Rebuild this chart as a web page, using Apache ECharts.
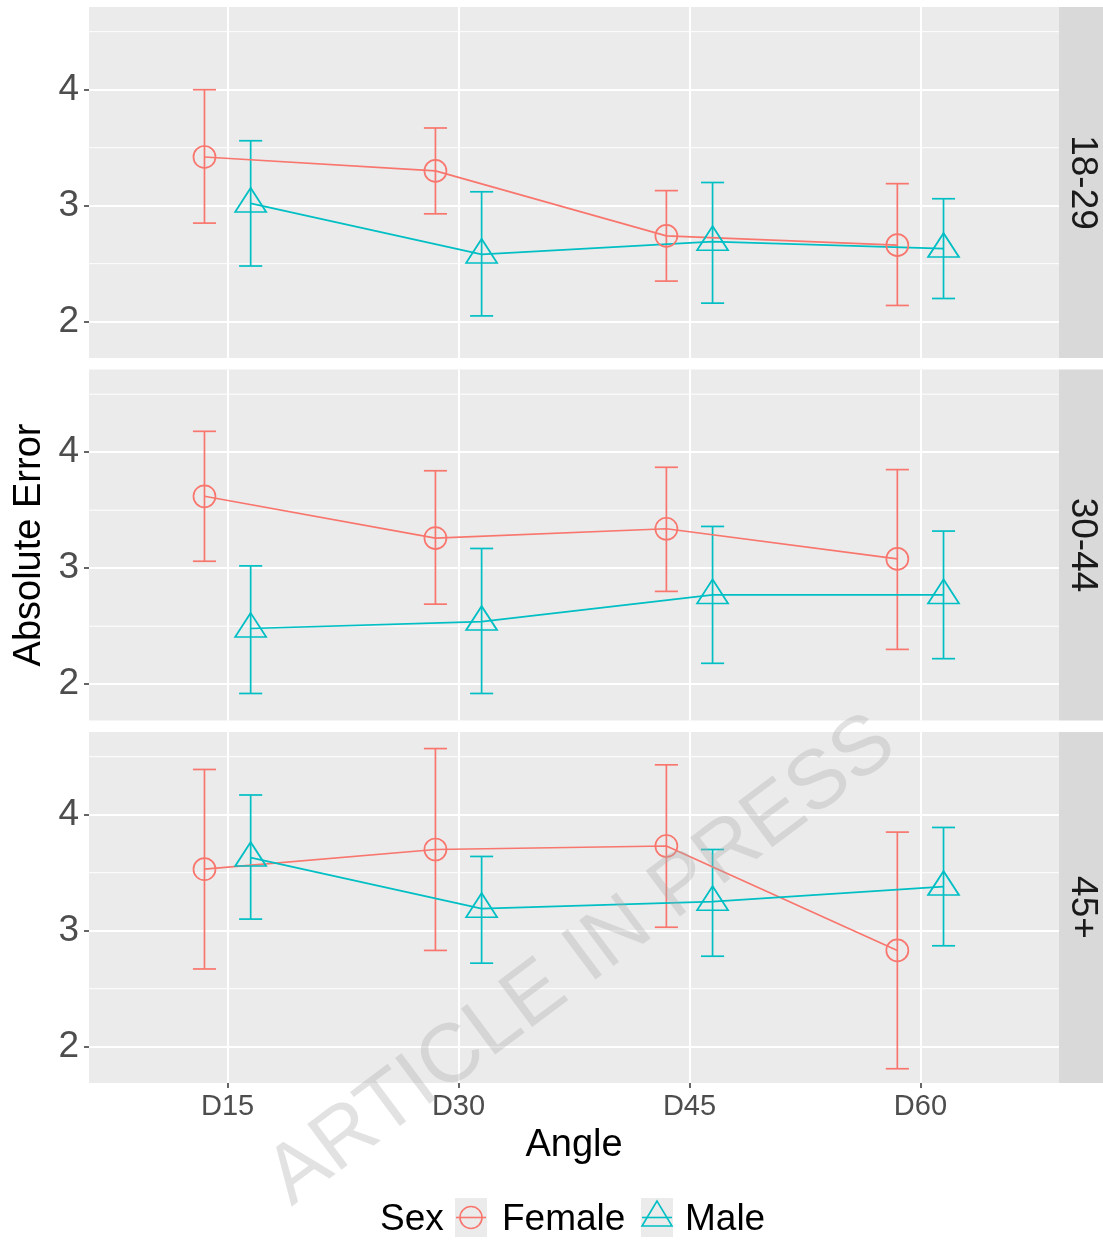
<!DOCTYPE html>
<html>
<head>
<meta charset="utf-8">
<script src="https://cdn.jsdelivr.net/npm/echarts@6/dist/echarts.min.js"></script>
<style>
html,body{margin:0;padding:0;background:#fff;}
#chart{width:1103px;height:1241px;}
</style>
</head>
<body>
<div id="chart"></div>
<script>
// ---------- data ----------
const categories = ['D15', 'D30', 'D45', 'D60'];
const panels = ['18-29', '30-44', '45+'];
const yTicks = [2, 3, 4];
const yMinor = [2.5, 3.5, 4.5];

// 18-29
const femaleMean1829 = [3.42, 3.30, 2.74, 2.66];
const femaleLow1829  = [2.85, 2.93, 2.35, 2.14];
const femaleHigh1829 = [4.00, 3.67, 3.13, 3.19];
const maleMean1829   = [3.02, 2.58, 2.69, 2.63];
const maleLow1829    = [2.48, 2.05, 2.16, 2.20];
const maleHigh1829   = [3.56, 3.12, 3.20, 3.06];
// 30-44
const femaleMean3044 = [3.62, 3.26, 3.34, 3.08];
const femaleLow3044  = [3.06, 2.69, 2.80, 2.30];
const femaleHigh3044 = [4.18, 3.84, 3.87, 3.85];
const maleMean3044   = [2.48, 2.54, 2.77, 2.77];
const maleLow3044    = [1.92, 1.92, 2.18, 2.22];
const maleHigh3044   = [3.02, 3.17, 3.36, 3.32];
// 45+
const femaleMean45 = [3.53, 3.70, 3.73, 2.83];
const femaleLow45  = [2.67, 2.83, 3.03, 1.81];
const femaleHigh45 = [4.39, 4.57, 4.43, 3.85];
const maleMean45   = [3.63, 3.19, 3.25, 3.38];
const maleLow45    = [3.10, 2.72, 2.78, 2.87];
const maleHigh45   = [4.17, 3.64, 3.70, 3.89];

const femaleMeans = [femaleMean1829, femaleMean3044, femaleMean45];
const femaleLows  = [femaleLow1829, femaleLow3044, femaleLow45];
const femaleHighs = [femaleHigh1829, femaleHigh3044, femaleHigh45];
const maleMeans = [maleMean1829, maleMean3044, maleMean45];
const maleLows  = [maleLow1829, maleLow3044, maleLow45];
const maleHighs = [maleHigh1829, maleHigh3044, maleHigh45];

// ---------- style ----------
const FEMALE = '#F8766D', MALE = '#00BFC4';
const FONT = '"Liberation Sans", Arial, Helvetica, sans-serif';
const PANEL_LEFT = 89, PANEL_W = 970, PANEL_H = 351;
const panelTops = [7, 369.5, 732];
const DODGE = 0.1;

const chart = echarts.init(document.getElementById('chart'), null, {renderer: 'canvas'});

const grids = [], xAxes = [], yAxes = [], series = [], graphics = [];

function errRender(params, api) {
  const x = api.value(0), lo = api.value(1), hi = api.value(2);
  const t = api.coord([x, hi]), b = api.coord([x, lo]);
  const hw = api.size([0.1, 0])[0] / 2;
  const style = {stroke: api.visual('color'), lineWidth: 1.7, fill: null};
  return {type: 'group', children: [
    {type: 'line', shape: {x1: t[0], y1: t[1], x2: b[0], y2: b[1]}, style: style},
    {type: 'line', shape: {x1: t[0] - hw, y1: t[1], x2: t[0] + hw, y2: t[1]}, style: style},
    {type: 'line', shape: {x1: b[0] - hw, y1: b[1], x2: b[0] + hw, y2: b[1]}, style: style}
  ]};
}

function minorRender(params, api) {
  const cs = params.coordSys;
  const y = api.coord([1, api.value(0)])[1];
  return {type: 'line', shape: {x1: cs.x, y1: y, x2: cs.x + cs.width, y2: y},
          style: {stroke: '#FFFFFF', lineWidth: 1}};
}

panels.forEach(function (name, i) {
  const last = i === panels.length - 1;
  grids.push({left: PANEL_LEFT, width: PANEL_W, top: panelTops[i], height: PANEL_H,
              show: true, backgroundColor: '#EBEBEB', borderWidth: 0});
  xAxes.push({
    type: 'value', gridIndex: i, min: 0.4, max: 4.6,
    axisLine: {show: false},
    axisTick: {show: last, customValues: [1, 2, 3, 4], length: 5, lineStyle: {color: '#333333', width: 1.5}},
    axisLabel: {show: last, customValues: [1, 2, 3, 4], margin: 9,
                formatter: function (v) { return categories[Math.round(v) - 1]; },
                color: '#4D4D4D', fontSize: 29, fontFamily: FONT},
    splitLine: {show: true, lineStyle: {color: '#FFFFFF', width: 2}}
  });
  yAxes.push({
    type: 'value', gridIndex: i, min: 1.687, max: 4.713,
    axisLine: {show: false},
    axisTick: {show: true, customValues: yTicks, length: 5, lineStyle: {color: '#333333', width: 1.5}},
    axisLabel: {customValues: yTicks, margin: 10, color: '#4D4D4D', fontSize: 37, fontFamily: FONT},
    splitLine: {show: true, lineStyle: {color: '#FFFFFF', width: 2}}
  });
  // minor grid lines
  series.push({type: 'custom', xAxisIndex: i, yAxisIndex: i, z: 1, silent: true,
               data: yMinor.map(function (v) { return [v]; }), encode: {y: 0},
               renderItem: minorRender});
  // female
  series.push({
    type: 'line', name: 'Female', xAxisIndex: i, yAxisIndex: i, z: 3, silent: true,
    data: femaleMeans[i].map(function (v, k) { return [k + 1 - DODGE, v]; }),
    symbol: 'circle', symbolSize: 22,
    itemStyle: {color: 'rgba(0,0,0,0)', borderColor: FEMALE, borderWidth: 1.7},
    lineStyle: {color: FEMALE, width: 1.7}, animation: false
  });
  series.push({
    type: 'custom', name: 'Female err', xAxisIndex: i, yAxisIndex: i, z: 3, silent: true,
    itemStyle: {color: FEMALE},
    data: femaleMeans[i].map(function (v, k) { return [k + 1 - DODGE, femaleLows[i][k], femaleHighs[i][k]]; }),
    encode: {x: 0, y: [1, 2]}, renderItem: errRender
  });
  // male
  series.push({
    type: 'line', name: 'Male', xAxisIndex: i, yAxisIndex: i, z: 3, silent: true,
    data: maleMeans[i].map(function (v, k) { return [k + 1 + DODGE, v]; }),
    symbol: 'triangle', symbolSize: [31, 24], symbolOffset: [0, -3.5],
    itemStyle: {color: 'rgba(0,0,0,0)', borderColor: MALE, borderWidth: 1.7},
    lineStyle: {color: MALE, width: 1.7}, animation: false
  });
  series.push({
    type: 'custom', name: 'Male err', xAxisIndex: i, yAxisIndex: i, z: 3, silent: true,
    itemStyle: {color: MALE},
    data: maleMeans[i].map(function (v, k) { return [k + 1 + DODGE, maleLows[i][k], maleHighs[i][k]]; }),
    encode: {x: 0, y: [1, 2]}, renderItem: errRender
  });
  // strip
  graphics.push({type: 'rect', shape: {x: 1059, y: panelTops[i], width: 44, height: PANEL_H},
                 style: {fill: '#D9D9D9'}, z: 1});
  graphics.push({type: 'text', x: 1082, y: panelTops[i] + PANEL_H / 2, rotation: -Math.PI / 2, z: 2,
                 style: {text: name, fill: '#1A1A1A', font: '37px ' + FONT, align: 'center', verticalAlign: 'middle'}});
});

// axis titles
graphics.push({type: 'text', x: 30, y: 545, rotation: Math.PI / 2, z: 2,
               style: {text: 'Absolute Error', fill: '#000000', font: '38px ' + FONT, align: 'center', verticalAlign: 'middle'}});
graphics.push({type: 'text', x: 574, y: 1146, z: 2,
               style: {text: 'Angle', fill: '#000000', font: '38px ' + FONT, align: 'center', verticalAlign: 'middle'}});

// legend
const LEG_Y = 1217.5;
const LEG_TEXT_Y = 1220;
graphics.push({type: 'text', x: 380, y: LEG_TEXT_Y, z: 2,
               style: {text: 'Sex', fill: '#000000', font: '37px ' + FONT, align: 'left', verticalAlign: 'middle'}});
graphics.push({type: 'rect', shape: {x: 455, y: 1198, width: 32, height: 39}, style: {fill: '#EBEBEB'}, z: 1});
graphics.push({type: 'line', shape: {x1: 456, y1: LEG_Y, x2: 486, y2: LEG_Y}, style: {stroke: FEMALE, lineWidth: 1.6}, z: 2});
graphics.push({type: 'circle', shape: {cx: 471, cy: LEG_Y, r: 11}, style: {stroke: FEMALE, lineWidth: 1.6, fill: null}, z: 2});
graphics.push({type: 'text', x: 502, y: LEG_TEXT_Y, z: 2,
               style: {text: 'Female', fill: '#000000', font: '37px ' + FONT, align: 'left', verticalAlign: 'middle'}});
graphics.push({type: 'rect', shape: {x: 641, y: 1198, width: 32, height: 39}, style: {fill: '#EBEBEB'}, z: 1});
graphics.push({type: 'line', shape: {x1: 642, y1: LEG_Y, x2: 672, y2: LEG_Y}, style: {stroke: MALE, lineWidth: 1.6}, z: 2});
graphics.push({type: 'polygon', shape: {points: [[657, 1201], [642, 1226], [672, 1226]]},
               style: {stroke: MALE, lineWidth: 1.6, fill: null}, z: 2});
graphics.push({type: 'text', x: 685, y: LEG_TEXT_Y, z: 2,
               style: {text: 'Male', fill: '#000000', font: '37px ' + FONT, align: 'left', verticalAlign: 'middle'}});

// watermark
graphics.push({type: 'text', x: 582, y: 961, rotation: Math.atan2(460, 615), z: 100, silent: true,
               style: {text: 'ARTICLE IN PRESS', fill: 'rgba(170,170,170,0.34)', font: '83px ' + FONT,
                       align: 'center', verticalAlign: 'middle'}});

chart.setOption({
  animation: false,
  backgroundColor: '#FFFFFF',
  textStyle: {fontFamily: FONT},
  grid: grids,
  xAxis: xAxes,
  yAxis: yAxes,
  series: series,
  graphic: {elements: graphics}
});
</script>
</body>
</html>
